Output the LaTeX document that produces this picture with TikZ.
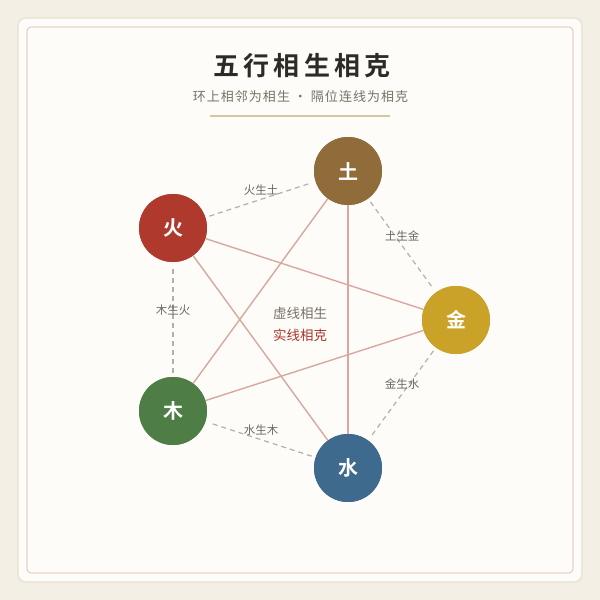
\documentclass[tikz,border=0pt]{standalone}
\usepackage{fontspec}
\newfontfamily\cjk{Noto Sans CJK SC}
\newfontfamily\cjkb{Noto Sans CJK SC Bold}
\newfontfamily\cjkttl[LetterSpace=16]{Noto Sans CJK SC Bold}
\newfontfamily\cjksub[LetterSpace=8]{Noto Sans CJK SC}
\definecolor{bgout}{HTML}{F3EFE5}
\definecolor{card}{HTML}{FDFCF8}
\definecolor{cardedge}{HTML}{E8DFD0}
\definecolor{inneredge}{HTML}{E6D3CB}
\definecolor{tu}{HTML}{8F6C3A}
\definecolor{huo}{HTML}{B0392E}
\definecolor{jin}{HTML}{C9A227}
\definecolor{mu}{HTML}{4F7D46}
\definecolor{shui}{HTML}{3E6A8E}
\definecolor{shengline}{HTML}{B0B0AC}
\definecolor{keline}{HTML}{D9A7A0}
\definecolor{lbl}{HTML}{6E675E}
\definecolor{ttl}{HTML}{2E2A25}
\definecolor{sub}{HTML}{7A7268}
\definecolor{rule}{HTML}{D6C69C}
\definecolor{kered}{HTML}{A8352C}
\begin{document}
\begin{tikzpicture}[x=1pt,y=-1pt,
  elem/.style={circle,minimum size=68pt,inner sep=0pt,text=white,font=\cjkb\fontsize{20}{20}\selectfont},
  sheng/.style={draw=shengline,line width=1.2pt,dash pattern=on 5pt off 4pt,shorten >=4pt,shorten <=4pt},
  ke/.style={draw=keline,line width=1.4pt},
  slabel/.style={text=lbl,font=\cjk\fontsize{11.5}{11.5}\selectfont}]
\useasboundingbox (0,0) rectangle (600,600);
\fill[bgout] (0,0) rectangle (600,600);
\draw[fill=card,draw=cardedge,line width=1.2pt,rounded corners=8pt] (18,18) rectangle (582,582);
\draw[draw=inneredge,line width=1.2pt,rounded corners=4pt] (27,27) rectangle (573,573);
\node[text=ttl,font=\cjkttl\fontsize{26}{26}\selectfont] (title) at (302,66) {五行相生相克};
\node[text=sub,font=\cjksub\fontsize{13}{13}\selectfont] (subtitle) at (300.5,97) {环上相邻为相生 · 隔位连线为相克};
\coordinate (r1) at (210,116);
\coordinate (r2) at (390,116);
\draw[rule,line width=1.6pt] (r1) -- (r2);
% nodes
\node[elem,fill=tu] (tu) at (348,171) {土};
\node[elem,fill=huo] (huo) at (173,228) {火};
\node[elem,fill=jin] (jin) at (456,320) {金};
\node[elem,fill=mu] (mu) at (173,411) {木};
\node[elem,fill=shui] (shui) at (348,468) {水};
% ke lines
\draw[ke] (huo) -- (jin);
\draw[ke] (huo) -- (shui);
\draw[ke] (tu) -- (mu);
\draw[ke] (tu) -- (shui);
\draw[ke] (mu) -- (jin);
% sheng lines
\draw[sheng] (huo) -- (tu);
\draw[sheng] (tu) -- (jin);
\draw[sheng] (jin) -- (shui);
\draw[sheng] (shui) -- (mu);
\draw[sheng] (mu) -- (huo);
% redraw nodes on top
\node[elem,fill=tu] at (tu) {土};
\node[elem,fill=huo] at (huo) {火};
\node[elem,fill=jin] at (jin) {金};
\node[elem,fill=mu] at (mu) {木};
\node[elem,fill=shui] at (shui) {水};
% labels
\node[slabel] (l1) at (261,190) {火生土};
\node[slabel] (l2) at (402,236) {土生金};
\node[slabel] (l3) at (402,384) {金生水};
\node[slabel] (l4) at (261,430) {水生木};
\node[slabel] (l5) at (173,310) {木生火};
\node[text=sub,font=\cjk\fontsize{13.5}{13.5}\selectfont] (c1) at (300,313) {虚线相生};
\node[text=kered,font=\cjk\fontsize{13.5}{13.5}\selectfont] (c2) at (300,335) {实线相克};
\end{tikzpicture}
\end{document}
